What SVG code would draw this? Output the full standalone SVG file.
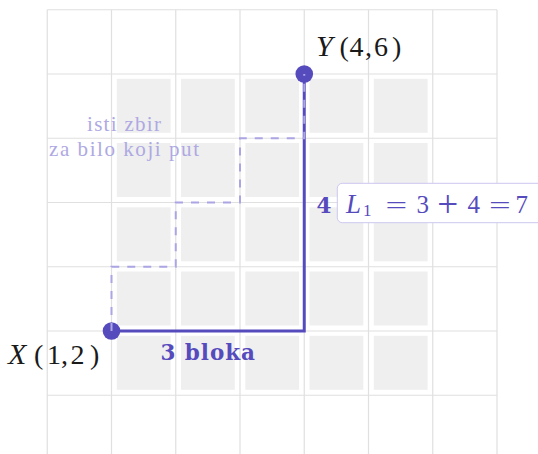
<svg xmlns="http://www.w3.org/2000/svg" width="538" height="454" viewBox="0 0 538 454">
<style>
.grid{stroke:#e0e0e0;stroke-width:1.2;fill:none}
.blk{fill:#efefef}
.main{stroke:#564bbd;stroke-width:3;fill:none;stroke-linecap:square}
.dash{stroke:#aba5e4;stroke-width:2;fill:none;stroke-dasharray:8 8}
.dot{fill:#564bbd}
.math{font-family:'Liberation Serif','DejaVu Serif',serif;fill:#1a1a1a}
.it{font-style:italic}
.pur{fill:#564bbd}
.bold{font-family:'DejaVu Serif','Liberation Serif',serif;font-weight:bold;fill:#564bbd}
.note{font-family:'Liberation Serif','DejaVu Serif',serif;fill:#aea9e2;font-size:21px}
</style>
<rect width="538" height="454" fill="#ffffff"/>
<g id="grid" class="grid">
<path d="M47.25 9.75V454M111.5 9.75V454M175.75 9.75V454M240 9.75V454M304.25 9.75V454M368.5 9.75V454M432.75 9.75V454M497 9.75V454"/>
<path d="M47.25 9.75H497M47.25 74H497M47.25 138.25H497M47.25 202.5H497M47.25 266.75H497M47.25 331H497M47.25 395.25H497"/>
</g>
<g id="blocks" class="blk">
<rect x="116.8" y="78.8" width="53.8" height="54"/><rect x="181" y="78.8" width="53.8" height="54"/><rect x="245.3" y="78.8" width="53.8" height="54"/><rect x="309.5" y="78.8" width="53.8" height="54"/><rect x="373.8" y="78.8" width="53.8" height="54"/>
<rect x="116.8" y="143" width="53.8" height="54"/><rect x="181" y="143" width="53.8" height="54"/><rect x="245.3" y="143" width="53.8" height="54"/><rect x="309.5" y="143" width="53.8" height="54"/><rect x="373.8" y="143" width="53.8" height="54"/>
<rect x="116.8" y="207.3" width="53.8" height="54"/><rect x="181" y="207.3" width="53.8" height="54"/><rect x="245.3" y="207.3" width="53.8" height="54"/><rect x="309.5" y="207.3" width="53.8" height="54"/><rect x="373.8" y="207.3" width="53.8" height="54"/>
<rect x="116.8" y="271.5" width="53.8" height="54"/><rect x="181" y="271.5" width="53.8" height="54"/><rect x="245.3" y="271.5" width="53.8" height="54"/><rect x="309.5" y="271.5" width="53.8" height="54"/><rect x="373.8" y="271.5" width="53.8" height="54"/>
<rect x="116.8" y="335.8" width="53.8" height="54"/><rect x="181" y="335.8" width="53.8" height="54"/><rect x="245.3" y="335.8" width="53.8" height="54"/><rect x="309.5" y="335.8" width="53.8" height="54"/><rect x="373.8" y="335.8" width="53.8" height="54"/>
</g>
<g id="connectors">
<path id="path-l1" class="main" d="M111.5 331H304.25V74"/>
</g>
<g id="node-X">
<circle class="dot" cx="111.5" cy="331" r="8.8"/>
<text class="math" font-size="28" y="364"><tspan class="it" font-size="30" x="8">X</tspan><tspan x="34">(</tspan><tspan x="47">1</tspan><tspan x="61">,</tspan><tspan x="70.5">2</tspan><tspan x="90">)</tspan></text>
</g>
<g id="node-Y">
<circle class="dot" cx="304.25" cy="74" r="8.8"/>
<text class="math" font-size="28" y="56"><tspan class="it" font-size="30" x="316">Y</tspan><tspan x="339.5">(</tspan><tspan x="349.5">4</tspan><tspan x="365">,</tspan><tspan x="374">6</tspan><tspan x="392">)</tspan></text>
</g>
<g id="connectors-alt">
<path id="path-stair" class="dash" d="M111.5 331V266.75H175.75V202.5H240V138.25H304.25V74"/>
</g>
<g id="label-blocks">
<text class="bold" font-size="21.5" x="160.5" y="360" textLength="94.5" lengthAdjust="spacing">3 bloka</text>
<text class="bold" font-size="21.5" x="316.5" y="213">4</text>
</g>
<g id="label-sum">
<rect x="337.3" y="183.3" width="215" height="39.4" rx="5" fill="#ffffff" stroke="#cbc7f0" stroke-width="1"/>
<text class="math pur" font-size="25" y="213.3"><tspan class="it" font-size="27" x="346">L</tspan><tspan font-size="17" x="363" y="216">1</tspan><tspan x="422.7" y="213.3" text-anchor="middle">3</tspan><tspan x="473.8" text-anchor="middle">4</tspan><tspan x="521.8" text-anchor="middle">7</tspan></text>
<text class="math pur" font-size="24" text-anchor="middle" transform="translate(396.3 213.3) scale(1.6 1)">=</text>
<text class="math pur" font-size="24" text-anchor="middle" transform="translate(447.7 217) scale(1.55 1.55)">+</text>
<text class="math pur" font-size="24" text-anchor="middle" transform="translate(499.7 213.3) scale(1.6 1)">=</text>
</g>
<g id="label-note">
<text class="note" x="124" y="130.7" text-anchor="middle" textLength="74" lengthAdjust="spacing">isti zbir</text>
<text class="note" x="124" y="155.7" text-anchor="middle" textLength="150" lengthAdjust="spacing">za bilo koji put</text>
</g>
</svg>
